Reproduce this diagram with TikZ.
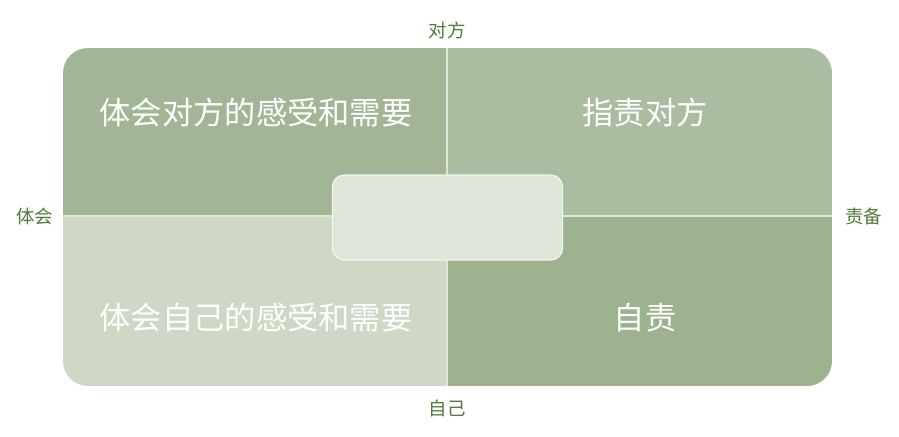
\documentclass[tikz,border=0pt]{standalone}
\usepackage{fontspec}
\setmainfont{Noto Sans CJK SC}
\usetikzlibrary{positioning}
\definecolor{SageDark}{RGB}{162,182,150}
\definecolor{SageMid}{RGB}{170,189,160}
\definecolor{SageLight}{RGB}{206,216,197}
\definecolor{SageDeep}{RGB}{157,178,143}
\definecolor{CoreFill}{RGB}{223,229,218}
\definecolor{CoreEdge}{RGB}{242,244,238}
\definecolor{DivLine}{RGB}{222,230,216}
\definecolor{AxisGreen}{RGB}{78,122,58}
\tikzset{
  quadtext/.style={text=white,font=\fontsize{17.8}{20}\selectfont,inner sep=0pt},
  axislabel/.style={text=AxisGreen,font=\fontsize{10.5}{12}\selectfont,inner sep=1pt},
  divider/.style={draw=DivLine,line width=0.6pt},
  corebox/.style={draw=CoreEdge,fill=CoreFill,line width=0.8pt,rounded corners=0.24cm,
    minimum width=4.6cm,minimum height=1.7cm}
}
\begin{document}
\begin{tikzpicture}[x=0.02cm,y=-0.02cm]
  \useasboundingbox (0,0) rectangle (899,436);
  % quadrants
  \begin{scope}
    \clip[rounded corners=0.5cm] (63,48) rectangle (832,386);
    \fill[SageDark] (63,48) rectangle (447,216);
    \fill[SageMid] (447,48) rectangle (832,216);
    \fill[SageLight] (63,216) rectangle (447,386);
    \fill[SageDeep] (447,216) rectangle (832,386);
  \end{scope}
  \coordinate (top) at (447,48);
  \coordinate (bottom) at (447,386);
  \coordinate (left) at (63,216);
  \coordinate (right) at (832,216);
  \draw[divider] (top) -- (bottom);
  \draw[divider] (left) -- (right);

  \node[corebox] (core) at (447.5,217.5) {};

  \node[quadtext] (other) at (256,113) {体会对方的感受和需要};
  \node[quadtext] (blame) at (645,113) {指责对方};
  \node[quadtext] (self) at (256,318) {体会自己的感受和需要};
  \node[quadtext] (guilt) at (645,318) {自责};

  % axes
  \node[axislabel,above=4pt of top] (axtop) {对方};
  \node[axislabel,below=6.5pt of bottom] (axbottom) {自己};
  \node[axislabel,left=4.5pt of left] (axleft) {体会};
  \node[axislabel,right=6.5pt of right] (axright) {责备};
\end{tikzpicture}
\end{document}
